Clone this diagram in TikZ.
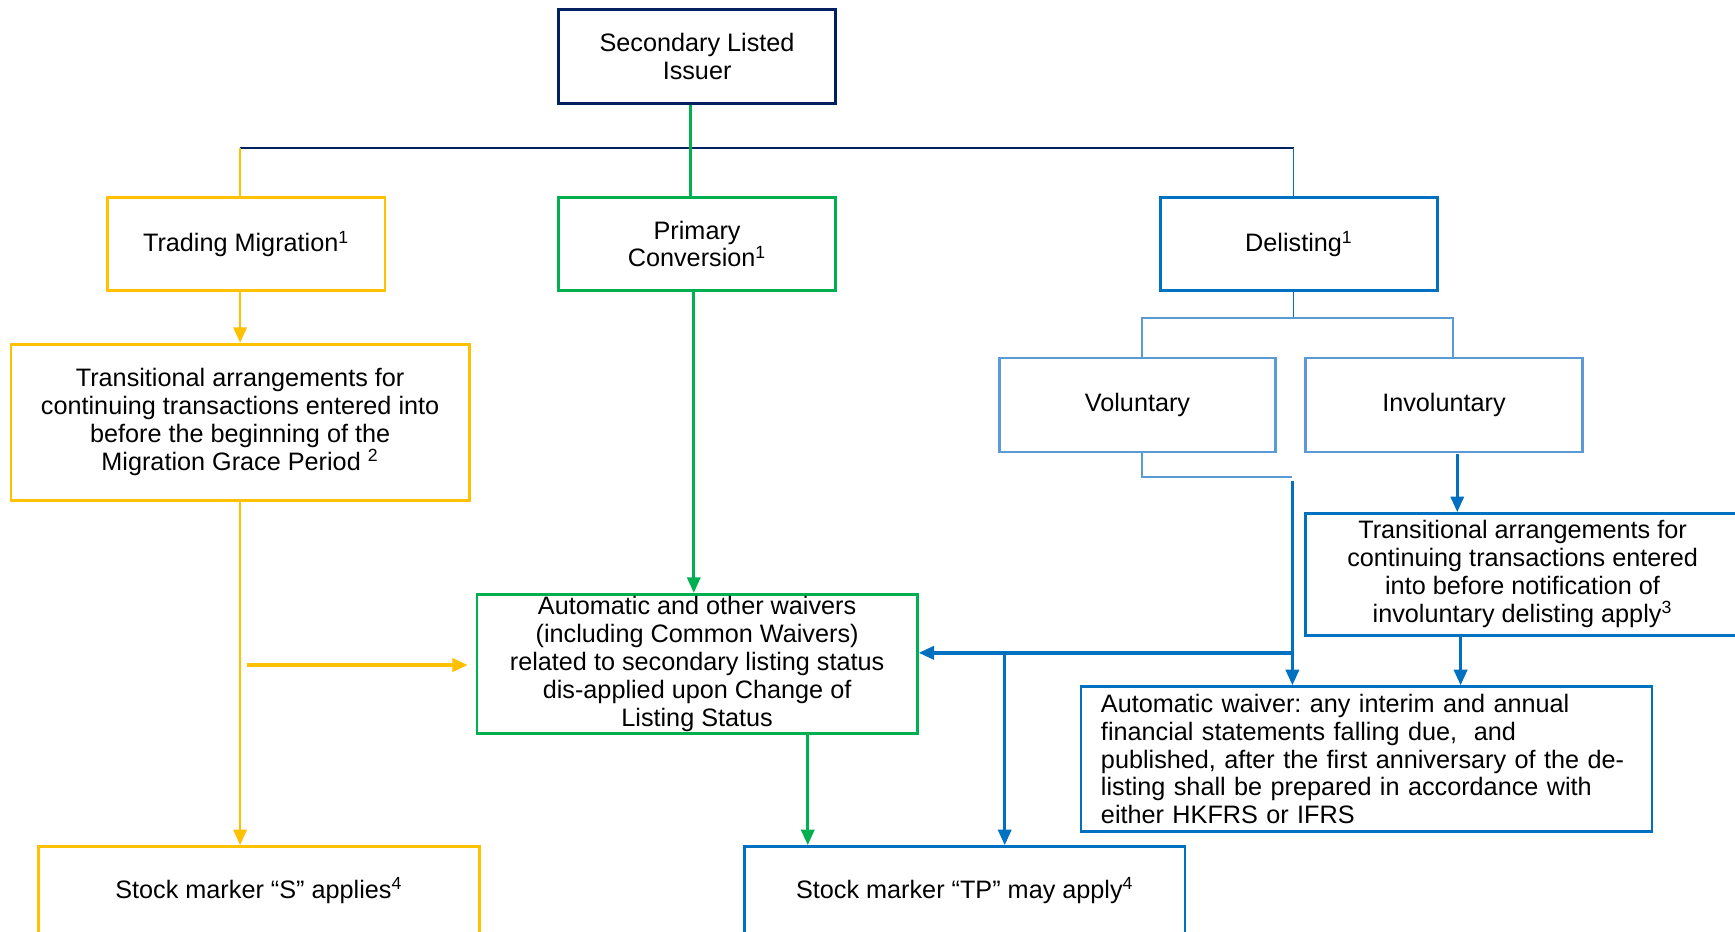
\documentclass[tikz,border=0pt]{standalone}
\usepackage{fontspec}
\setmainfont{Liberation Sans}
\usetikzlibrary{arrows.meta}
\definecolor{navy}{HTML}{002060}
\definecolor{yel}{HTML}{FFC000}
\definecolor{grn}{HTML}{00B050}
\definecolor{blu}{HTML}{0070C0}
\definecolor{lblu}{HTML}{5B9BD5}
\newcommand{\fs}{\fontsize{11.4pt}{12.6pt}\selectfont\frenchspacing}
\tikzset{
  box/.style={draw, rectangle, line width=1.25pt, align=center, font=\fs, inner sep=0pt},
  thinline/.style={line width=0.85pt},
  arr/.style={line width=1.2pt, -{Triangle[length=7pt,width=6pt]}},
}
\begin{document}
\begin{tikzpicture}[x=0.5pt,y=-0.5pt]
\useasboundingbox (0,0) rectangle (1568,842);
\clip (0,0) rectangle (1568,842);
\fill[white] (0,0) rectangle (1568,842);

% boxes
\node[box, draw=navy, minimum width=125pt, minimum height=42.5pt] (issuer) at (630,51) {Secondary Listed\\Issuer};
\node[box, draw=yel, minimum width=125.5pt, minimum height=42pt] (tm) at (222.5,220.5) {Trading Migration\textsuperscript{1}};
\node[box, draw=grn, minimum width=125pt, minimum height=42pt] (pc) at (630,220.5) {Primary\\Conversion\textsuperscript{1}};
\node[box, draw=blu, minimum width=125pt, minimum height=42pt] (del) at (1174,220.5) {Delisting\textsuperscript{1}};
\node[box, draw=lblu, minimum width=125pt, minimum height=42.5pt] (vol) at (1028,366) {Voluntary};
\node[box, draw=lblu, minimum width=125pt, minimum height=42.5pt] (invol) at (1305,366) {Involuntary};
\node[box, draw=yel, minimum width=207pt, minimum height=70.5pt] (ytrans) at (217,381.5) {Transitional arrangements for\\continuing transactions entered into\\before the beginning of the\\Migration Grace Period \textsuperscript{2}};
\node[box, draw=grn, minimum width=199pt, minimum height=63pt] (gwaiver) at (630,600) {Automatic and other waivers\\(including Common Waivers)\\related to secondary listing status\\dis-applied upon Change of\\Listing Status};
\node[box, draw=blu, minimum width=196pt, minimum height=55pt] (btrans) at (1376,519) {Transitional arrangements for\\continuing transactions entered\\into before notification of\\involuntary delisting apply\textsuperscript{3}};
\node[box, draw=blu, minimum width=258pt, minimum height=65.5pt, align=left, text width=240pt] (awaiver) at (1235,686) {Automatic waiver: any interim and annual\\financial statements falling due,\ \ and\\published, after the first anniversary of the de-\\listing shall be prepared in accordance with\\either HKFRS or IFRS};
\node[box, draw=yel, minimum width=199pt, minimum height=40pt] (stocks) at (234,805) {Stock marker “S” applies\textsuperscript{4}};
\node[box, draw=blu, minimum width=199pt, minimum height=40pt] (tp) at (872,805) {Stock marker “TP” may apply\textsuperscript{4}};

% junction coordinates
\coordinate (hl) at (217,134);
\coordinate (hr) at (1169,134);
\coordinate (gt) at (624,134);
\coordinate (dj) at (1169,287);
\coordinate (vx) at (1032,287);
\coordinate (ix) at (1313,287);
\coordinate (vc) at (1168,431);
\coordinate (vc2) at (1168,435);
\coordinate (jn) at (1168,590);
\coordinate (tj) at (908,590);
\coordinate (ia) at (1317,410);
\coordinate (ba) at (1320,0);
\coordinate (ya) at (223,601);
\coordinate (gx) at (627,0);
\coordinate (gy) at (730,0);

% top tree
\draw[navy, thinline] (hl) -- (hr);
\draw[grn, line width=1pt] (issuer.south -| gt) -- (pc.north -| gt);
\draw[yel, thinline] (hl) -- (tm.north -| hl);
\draw[blu, thinline] (hr) -- (del.north -| hr);
\draw[blu, thinline] (del.south -| dj) -- (dj);
\draw[lblu, thinline] (vol.north -| vx) -- (vx) -- (ix) -- (invol.north -| ix);
\draw[lblu, thinline] (vol.south -| vx) |- (vc);

% yellow flow
\draw[yel, arr] (tm.south -| hl) -- (ytrans.north -| hl);
\draw[yel, arr] (ytrans.south -| hl) -- (stocks.north -| hl);
\draw[yel, arr, line width=1.5pt, shorten >=3.5pt] (ya) -- (gwaiver.west |- ya);

% green flow
\draw[grn, arr] (pc.south -| gx) -- (gwaiver.north -| gx);
\draw[grn, arr] (gwaiver.south -| gy) -- (tp.north -| gy);

% blue flow
\draw[blu, arr] (vc2) -- (awaiver.north -| vc2);
\draw[blu, arr, line width=1.5pt] (jn) -- (gwaiver.east |- jn);
\draw[blu, arr] (tj) -- (tp.north -| tj);
\draw[blu, arr] (ia) -- (btrans.north -| ia);
\draw[blu, arr] (btrans.south -| ba) -- (awaiver.north -| ba);
\end{tikzpicture}
\end{document}
